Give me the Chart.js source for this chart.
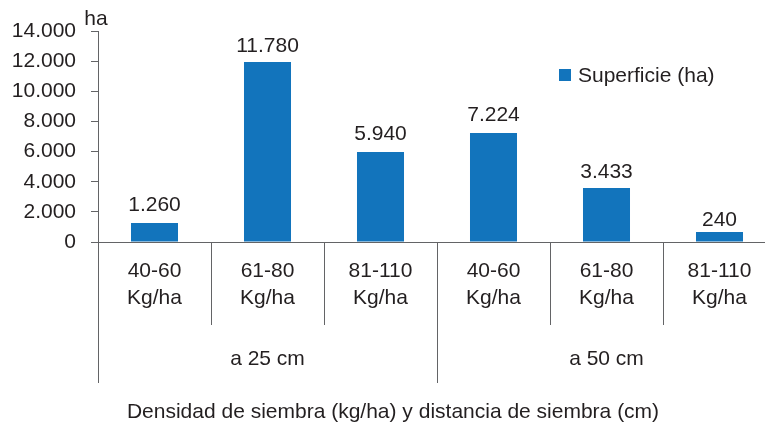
<!DOCTYPE html>
<html>
<head>
<meta charset="utf-8">
<script src="https://cdn.jsdelivr.net/npm/chart.js@4"></script>
<style>
  html, body { margin: 0; padding: 0; background: #fff; overflow: hidden; }
  #wrap { width: 790px; height: 425px; }
</style>
</head>
<body>
<div id="wrap"><canvas id="chart"></canvas></div>
<script>
// Datos
const categories = [['40-60', 'Kg/ha'], ['61-80', 'Kg/ha'], ['81-110', 'Kg/ha'],
                    ['40-60', 'Kg/ha'], ['61-80', 'Kg/ha'], ['81-110', 'Kg/ha']];
const groups = ['a 25 cm', 'a 50 cm'];
const groupSize = 3;
// altura de las barras tal como se dibujan
const barHeights = [1260, 11950, 5970, 7230, 3580, 660];
// valores impresos sobre cada barra
const labelValues = [1260, 11780, 5940, 7224, 3433, 240];
const seriesName = 'Superficie (ha)';
const yUnit = 'ha';
const xTitle = 'Densidad de siembra (kg/ha) y distancia de siembra (cm)';
const yMax = 14000;
const yStep = 2000;

const FONT = 'Liberation Sans';
const TEXT = '#231f20';
const LINE = '#636466';
const BLUE = '#1274bc';

// Formato con punto como separador de miles
function fmt(v) {
    return String(v).replace(/\B(?=(\d{3})+(?!\d))/g, '.');
}

// Etiquetas, leyenda, grupos y título del eje
const extras = {
    id: 'extras',
    afterDraw(chart) {
        const ctx = chart.ctx;
        const x = chart.scales.x;
        const y = chart.scales.y;
        ctx.save();
        ctx.font = `21px "${FONT}"`;
        ctx.fillStyle = TEXT;

        // valores sobre las barras
        ctx.textAlign = 'center';
        ctx.textBaseline = 'alphabetic';
        labelValues.forEach((v, i) => {
            ctx.fillText(fmt(v), x.getPixelForValue(i), y.getPixelForValue(v) - 12);
        });

        // unidad del eje y
        ctx.fillText(yUnit, x.left - 2, y.top - 6);

        // separadores y nombres de grupos
        const half = (x.getPixelForValue(1) - x.getPixelForValue(0)) / 2;
        ctx.strokeStyle = LINE;
        ctx.lineWidth = 1;
        ctx.textBaseline = 'middle';
        groups.forEach((g, k) => {
            const first = k * groupSize;
            const last = first + groupSize - 1;
            const x0 = x.getPixelForValue(first) - half;
            const x1 = x.getPixelForValue(last) + half;
            [x0, x1].forEach(px => {
                ctx.beginPath();
                ctx.moveTo(Math.round(px) + 0.5, x.top);
                ctx.lineTo(Math.round(px) + 0.5, x.top + 141);
                ctx.stroke();
            });
            ctx.fillText(g, (x0 + x1) / 2, x.top + 117);
        });

        // título del eje x
        ctx.fillText(xTitle, 393, x.top + 170);

        // leyenda
        ctx.fillStyle = BLUE;
        ctx.fillRect(559, 69, 12, 12);
        ctx.fillStyle = TEXT;
        ctx.textAlign = 'left';
        ctx.fillText(seriesName, 578, 76);
        ctx.restore();
    }
};

new Chart(document.getElementById('chart').getContext('2d'), {
    type: 'bar',
    data: {
        labels: categories,
        datasets: [{
            label: seriesName,
            data: barHeights,
            backgroundColor: BLUE,
            barPercentage: 0.416,
            categoryPercentage: 1
        }]
    },
    options: {
        responsive: true,
        maintainAspectRatio: false,
        animation: false,
        layout: { padding: { top: 31, right: 14, left: 0, bottom: 0 } },
        plugins: {
            legend: { display: false },
            tooltip: { enabled: false }
        },
        scales: {
            x: {
                afterFit(scale) { scale.height = 183; },
                grid: {
                    offset: true,
                    drawOnChartArea: false,
                    tickLength: 83,
                    color: LINE
                },
                border: { color: LINE },
                ticks: {
                    padding: -67,
                    color: TEXT,
                    font: { family: FONT, size: 21, lineHeight: 1.29 },
                    maxRotation: 0,
                    autoSkip: false
                }
            },
            y: {
                min: 0,
                max: yMax,
                afterFit(scale) { scale.width = 98; },
                grid: {
                    drawOnChartArea: false,
                    tickLength: 7,
                    color: LINE
                },
                border: { color: LINE },
                ticks: {
                    stepSize: yStep,
                    padding: 15,
                    color: TEXT,
                    font: { family: FONT, size: 21 },
                    callback: function(value) {
                        return fmt(value);
                    }
                }
            }
        }
    },
    plugins: [extras]
});
</script>
</body>
</html>
